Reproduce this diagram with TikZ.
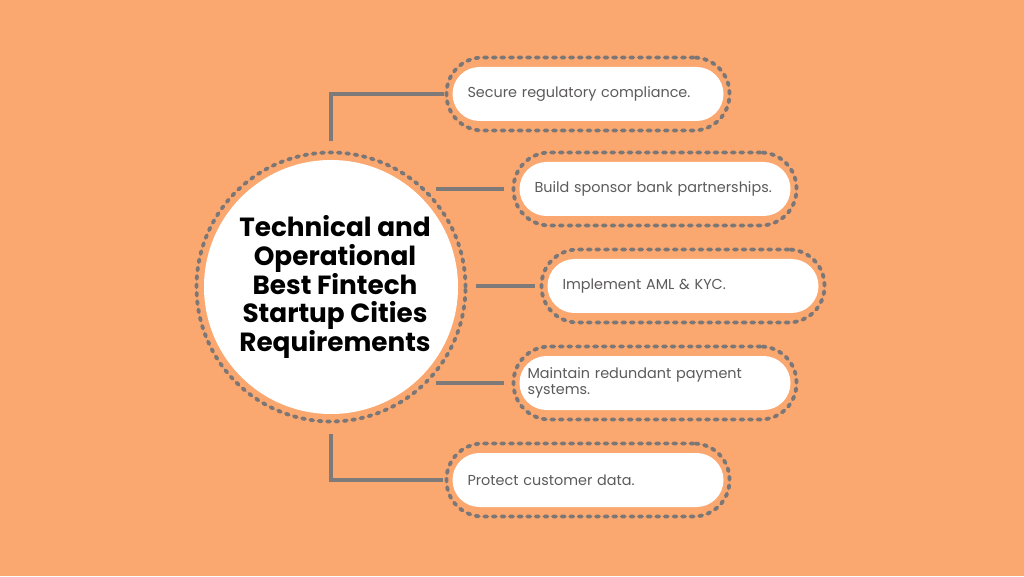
\documentclass[tikz,border=0pt]{standalone}
\usepackage{fontspec}
\setmainfont{Poppins}
\usepackage{tikz}
\usetikzlibrary{positioning,calc,fit}
\definecolor{bgorange}{HTML}{FBA770}
\definecolor{linegray}{HTML}{7D7A79}
\definecolor{dotgray}{HTML}{7A7776}
\definecolor{txtgray}{HTML}{5C5A5A}

\begin{document}
\begin{tikzpicture}[
  x=1pt, y=1pt,
  every node/.style={inner sep=0pt, outer sep=0pt},
  hub/.style   ={circle, fill=white, minimum size=254pt},
  hubtext/.style={align=center, text=black,
                 font=\fontsize{26.3}{28.6}\selectfont\bfseries},
  hubring/.style={circle, draw=dotgray, line width=3.8pt, line cap=round,
                 dash pattern=on 2.8pt off 5.6pt, minimum size=269pt},
  item/.style  ={fill=white, rounded corners=27pt, minimum height=54pt,
                 text width=241pt, inner xsep=15pt, align=left,
                 font=\fontsize{14.4}{16}\selectfont, text=txtgray},
  ring/.style  ={draw=dotgray, line width=3.8pt, line cap=round,
                 dash pattern=on 3pt off 5.6pt, rounded corners=36pt,
                 inner xsep=6pt, inner ysep=9.5pt},
  link/.style  ={draw=linegray, line width=3.6pt}]

% background
\fill[bgorange] (0,0) rectangle (1024,576);
\useasboundingbox (0,0) rectangle (1024,576);

% centre
\node[hubring] (cring) at (331,289) {};
\node[hub] (hub) at (331,289) {};
\node[hubtext] (title) at ([xshift=4pt]hub.center)
     {Technical and\\ Operational\\ Best Fintech\\ Startup Cities\\ Requirements};

% the five requirements
\node[item] (b1) at (588,482) {Secure regulatory compliance.};
\node[item] (b2) at (655,387) {Build sponsor bank partnerships.};
\node[item] (b3) at (683,290) {Implement AML \& KYC.};
\node[item, inner xsep=8pt, text width=255pt] (b4) at (655,193)
     {Maintain redundant payment\\ systems.};
\node[item] (b5) at (588,96)  {Protect customer data.};

\foreach \i in {1,...,5}
  \node[ring, fit=(b\i)] (r\i) {};

% connectors
\draw[link] ([yshift=11pt]cring.north) |- ([xshift=-3pt]r1.west);
\draw[link] ([xshift=12pt]r2.west -| cring.46) -- ([xshift=-10pt]r2.west);
\draw[link] ([xshift=10pt]cring.east |- r3.west) -- ([xshift=-7pt]r3.west);
\draw[link] ([xshift=12pt]r4.west -| cring.-46) -- ([xshift=-10pt]r4.west);
\draw[link] ([yshift=-12pt]cring.south) |- ([xshift=-4pt]r5.west);

\end{tikzpicture}
\end{document}
